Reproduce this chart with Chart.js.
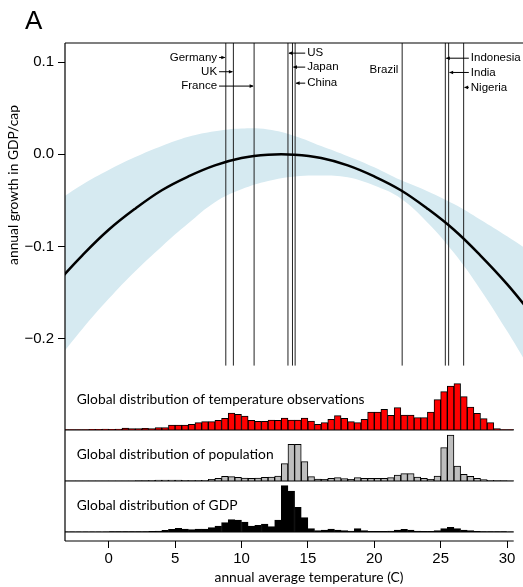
<!DOCTYPE html>
<html>
<head>
<meta charset="utf-8">
<script src="https://cdn.jsdelivr.net/npm/chart.js@4.4.0/dist/chart.umd.min.js"></script>
<style>
  html, body { margin: 0; padding: 0; background: #fff; overflow: hidden; }
  canvas { display: block; }
</style>
</head>
<body>
<canvas id="chart" width="523" height="587"></canvas>
<script>
// response curve
const curveTemp = [-4, -2, 0, 2, 4, 6, 8, 10, 12, 14, 16, 18, 20, 22, 24, 26, 28, 30, 32];
const curveGrowth = [-0.141, -0.110, -0.082, -0.059, -0.039, -0.024, -0.012, -0.004, -0.0005, -0.0005,
  -0.004, -0.012, -0.024, -0.039, -0.059, -0.082, -0.110, -0.141, -0.176];

// confidence band
const bandTemp = [-4, -2, 0, 2, 4, 6, 8, 10, 12, 14, 16, 18, 20, 22, 24, 26, 28, 30, 32];
const bandUpper = [-0.052, -0.033, -0.017, -0.003, 0.009, 0.019, 0.025, 0.028, 0.027, 0.020,
  0.009, -0.002, -0.014, -0.028, -0.040, -0.054, -0.071, -0.089, -0.108];
const bandLower = [-0.226, -0.190, -0.157, -0.127, -0.100, -0.075, -0.052, -0.038, -0.029, -0.024,
  -0.023, -0.025, -0.034, -0.048, -0.074, -0.107, -0.147, -0.192, -0.240];

const yTicks = [-0.2, -0.1, 0.0, 0.1];
const xTicks = [0, 5, 10, 15, 20, 25, 30];

// country average temperatures
const countries = ["Germany", "UK", "France", "US", "Japan", "China", "Brazil", "Indonesia", "India", "Nigeria"];
const countryTemp = [8.82, 9.39, 10.95, 13.5, 13.84, 14.04, 22.1, 25.35, 25.6, 26.73];

// histogram bins (centres, 0.5 C wide)
const binCenters = [-3.25, -2.75, -2.25, -1.75, -1.25, -0.75, -0.25, 0.25, 0.75, 1.25, 1.75, 2.25, 2.75,
  3.25, 3.75, 4.25, 4.75, 5.25, 5.75, 6.25, 6.75, 7.25, 7.75, 8.25, 8.75, 9.25, 9.75, 10.25, 10.75,
  11.25, 11.75, 12.25, 12.75, 13.25, 13.75, 14.25, 14.75, 15.25, 15.75, 16.25, 16.75, 17.25, 17.75,
  18.25, 18.75, 19.25, 19.75, 20.25, 20.75, 21.25, 21.75, 22.25, 22.75, 23.25, 23.75, 24.25, 24.75,
  25.25, 25.75, 26.25, 26.75, 27.25, 27.75, 28.25, 28.75, 29.25, 29.75, 30.25];
const tempObs = [1, 1, 1, 1, 2, 2, 3, 2, 3, 6, 4, 4, 5,
  4, 7, 7, 15, 15, 15, 17, 22, 25, 25, 29, 35, 51, 47, 42, 29,
  26, 26, 30, 29, 36, 30, 30, 36, 27, 17, 22, 32, 43, 35,
  25, 22, 32, 54, 54, 62, 44, 67, 45, 45, 37, 37, 54, 91,
  115, 132, 139, 100, 69, 50, 34, 22, 4, 1, 1];
const popDist = [0.5, 0.5, 0.5, 0.5, 0.5, 0.5, 0.5, 0.5, 0.5, 0.5, 0.5, 1, 1,
  2, 3, 3, 3, 3, 2, 1, 2, 2, 5, 8, 14, 13, 11, 9, 8,
  9, 11, 12, 15, 52, 110, 110, 58, 13, 6, 5, 8, 10, 7,
  5, 10, 8, 8, 8, 8, 10, 18, 22, 22, 12, 8, 5, 15,
  100, 138, 45, 20, 14, 8, 4, 2, 1, 1, 0.5];
const gdpDist = [0.5, 0.5, 0.5, 0.5, 0.5, 0.5, 0.5, 1, 1, 1, 1, 1, 1,
  2, 3, 5, 8, 11, 9, 7, 9, 9, 13, 18, 28, 37, 36, 30, 18,
  20, 24, 16, 36, 139, 123, 74, 43, 10, 4, 6, 9, 6, 4,
  3, 10, 4, 2, 2, 2, 3, 6, 8, 6, 3, 2, 2, 4,
  10, 14, 10, 6, 4, 2, 1, 1, 1, 1, 0.5];

// label placement (style): anchor temperature, row height in growth units
const labelPlace = [
  { side: "left", x: 8.16, y: 0.1052 },
  { side: "left", x: 8.16, y: 0.0897 },
  { side: "left", x: 8.16, y: 0.0741 },
  { side: "right", x: 14.95, y: 0.1099 },
  { side: "right", x: 14.95, y: 0.0947 },
  { side: "right", x: 14.95, y: 0.0773 },
  { side: "left", x: 21.81, y: 0.0914, noArrow: true },
  { side: "right", x: 27.27, y: 0.1044 },
  { side: "right", x: 27.27, y: 0.0889 },
  { side: "right", x: 27.27, y: 0.0727 }
];
const histLabels = [
  { axis: "yT", text: "Global distribution of temperature observations", y: 77 },
  { axis: "yP", text: "Global distribution of population", y: 65 },
  { axis: "yG", text: "Global distribution of GDP", y: 66 }
];

const HUMAN = "Lato, 'Open Sans', sans-serif";
const HELV = "'Liberation Sans', Arial, sans-serif";

const toXY = (xs, ys) => xs.map((x, i) => ({ x: x, y: ys[i] }));

const decor = {
  id: "decor",
  beforeDatasetDraw(chart, args) {
    if (args.index !== 2) return;
    const ctx = chart.ctx, x = chart.scales.x, y = chart.scales.y;
    const area = chart.chartArea;
    ctx.save();
    ctx.strokeStyle = "#222";
    ctx.lineWidth = 1;
    countryTemp.forEach(t => {
      const px = x.getPixelForValue(t);
      ctx.beginPath();
      ctx.moveTo(px, area.top);
      ctx.lineTo(px, y.getPixelForValue(-0.2295));
      ctx.stroke();
    });
    ctx.restore();
  },
  afterDraw(chart) {
    const ctx = chart.ctx, s = chart.scales, area = chart.chartArea;
    const xEnd = s.x.getPixelForValue(30.5);
    ctx.save();
    ctx.strokeStyle = "#000";
    ctx.lineWidth = 1.2;
    ctx.beginPath();
    ctx.moveTo(area.left, area.top);
    ctx.lineTo(area.right, area.top);
    ctx.moveTo(area.left, area.top);
    ctx.lineTo(area.left, area.bottom);
    [s.yT.bottom, s.yP.bottom, area.bottom, s.yG.getPixelForValue(0)].forEach(py => {
      ctx.moveTo(area.left, py);
      ctx.lineTo(xEnd, py);
    });
    ctx.stroke();

    // country labels with arrows
    ctx.fillStyle = "#000";
    ctx.font = "11.5px " + HELV;
    ctx.textBaseline = "middle";
    ctx.lineWidth = 1;
    countries.forEach((name, i) => {
      const p = labelPlace[i];
      const tx = s.x.getPixelForValue(p.x);
      const ty = s.y.getPixelForValue(p.y);
      const lx = s.x.getPixelForValue(countryTemp[i]);
      ctx.textAlign = p.side === "left" ? "right" : "left";
      ctx.fillText(name, tx, ty);
      if (p.noArrow) return;
      const start = p.side === "left" ? tx + 2 : tx - 2;
      const dir = lx > start ? 1 : -1;
      ctx.beginPath();
      ctx.moveTo(start, ty);
      ctx.lineTo(lx - dir * 1, ty);
      ctx.stroke();
      ctx.beginPath();
      ctx.moveTo(lx - dir * 0.5, ty);
      ctx.lineTo(lx - dir * 4.5, ty - 1.8);
      ctx.lineTo(lx - dir * 4.5, ty + 1.8);
      ctx.closePath();
      ctx.fill();
    });

    // histogram panel labels
    ctx.font = "13.8px " + HUMAN;
    ctx.textAlign = "left";
    ctx.textBaseline = "alphabetic";
    histLabels.forEach(h => {
      ctx.fillText(h.text, s.x.getPixelForValue(-2.4), s[h.axis].getPixelForValue(h.y));
    });

    // axis titles and panel letter
    ctx.textAlign = "center";
    ctx.fillText("annual average temperature (C)", 309, 582);
    ctx.save();
    ctx.translate(18, 185);
    ctx.rotate(-Math.PI / 2);
    ctx.fillText("annual growth in GDP/cap", 0, 0);
    ctx.restore();
    ctx.font = "26px " + HELV;
    ctx.textAlign = "left";
    ctx.fillText("A", 25, 29);
    ctx.restore();
  }
};

const hidden = (weight, stackWeight, min, max) => ({
  type: "linear",
  position: "left",
  stack: "panels",
  stackWeight: stackWeight,
  weight: weight,
  min: min,
  max: max,
  ticks: { display: false },
  grid: { display: false },
  border: { display: false },
  afterFit(scale) { scale.width = 65; }
});

const barSet = (values, axis, color) => ({
  type: "bar",
  data: toXY(binCenters, values),
  xAxisID: "x",
  yAxisID: axis,
  backgroundColor: color,
  borderColor: "#000",
  borderWidth: 1,
  borderSkipped: "start",
  grouped: false,
  categoryPercentage: 1,
  barPercentage: 1,
  order: 3
});

new Chart(document.getElementById("chart"), {
  type: "line",
  data: {
    datasets: [
      {
        data: toXY(bandTemp, bandUpper),
        yAxisID: "y",
        borderWidth: 0,
        pointRadius: 0,
        backgroundColor: "#d6eaf1",
        fill: "+1",
        tension: 0.4,
        order: 2
      },
      {
        data: toXY(bandTemp, bandLower),
        yAxisID: "y",
        borderWidth: 0,
        pointRadius: 0,
        fill: false,
        tension: 0.4,
        order: 2
      },
      {
        data: toXY(curveTemp, curveGrowth),
        yAxisID: "y",
        borderColor: "#000",
        borderWidth: 2.5,
        pointRadius: 0,
        fill: false,
        tension: 0.4,
        order: 1
      },
      barSet(tempObs, "yT", "#ff0000"),
      barSet(popDist, "yP", "#bebebe"),
      barSet(gdpDist, "yG", "#000000")
    ]
  },
  options: {
    responsive: false,
    animation: false,
    devicePixelRatio: 1,
    layout: { padding: { top: 43, left: 0, right: 0, bottom: 0 } },
    plugins: { legend: { display: false }, tooltip: { enabled: false } },
    scales: {
      x: {
        type: "linear",
        offset: false,
        min: -3.29,
        max: 31.2,
        afterBuildTicks(scale) { scale.ticks = xTicks.map(v => ({ value: v })); },
        afterFit(scale) { scale.height = 46; },
        grid: { display: true, offset: false, drawOnChartArea: false, drawTicks: true, tickLength: 7, color: "#000", lineWidth: 1 },
        border: { display: false },
        ticks: { color: "#000", font: { family: HELV, size: 15 }, padding: 2, maxRotation: 0, autoSkip: false }
      },
      y: {
        type: "linear",
        position: "left",
        stack: "panels",
        stackWeight: 325,
        weight: 4,
        min: -0.2321,
        max: 0.1209,
        afterBuildTicks(scale) { scale.ticks = yTicks.map(v => ({ value: v })); },
        afterFit(scale) { scale.width = 65; },
        grid: { display: true, drawOnChartArea: false, drawTicks: true, tickLength: 7, color: "#000", lineWidth: 1 },
        border: { display: false },
        ticks: {
          color: "#000",
          font: { family: HELV, size: 15 },
          padding: 4,
          callback: v => (v < 0 ? "\u2212" : "") + Math.abs(v).toFixed(1)
        }
      },
      yT: hidden(3, 62, 0, 186),
      yP: hidden(2, 51, 0, 153),
      yG: hidden(1, 60, -27, 153)
    }
  },
  plugins: [decor]
});
</script>
</body>
</html>
